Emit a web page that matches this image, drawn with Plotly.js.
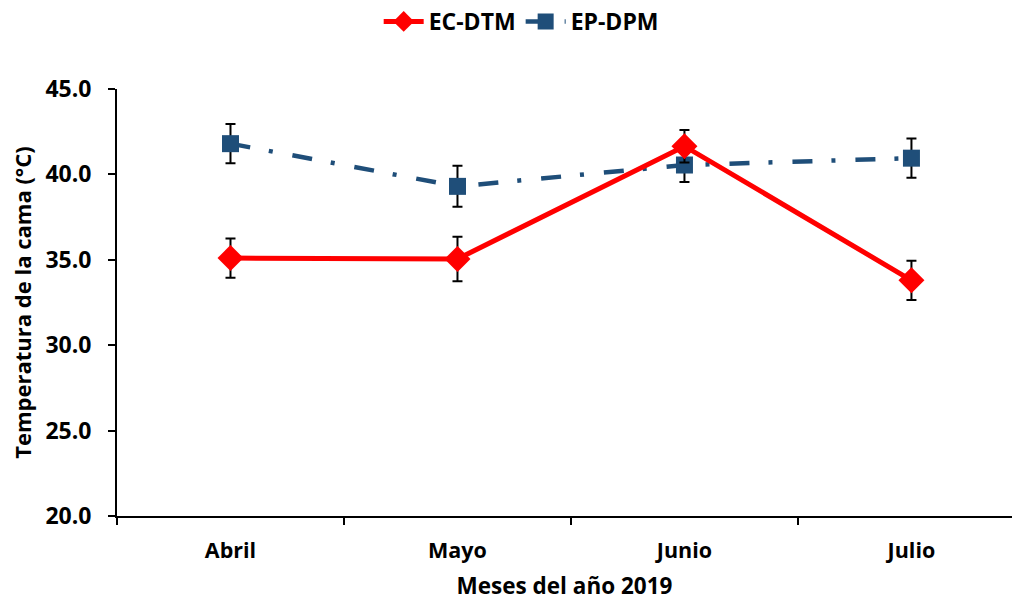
<!DOCTYPE html>
<html>
<head>
<meta charset="utf-8">
<script src="https://cdn.plot.ly/plotly-3.0.1.min.js"></script>
<style>html,body{margin:0;padding:0;background:#fff;overflow:hidden}</style>
</head>
<body>
<div id="chart" style="width:1012px;height:601px"></div>
<script>
const months = ["Abril", "Mayo", "Junio", "Julio"];
const ecDtm = [35.1, 35.05, 41.65, 33.8];
const ecDtmErr = [1.15, 1.3, 0.95, 1.15];
const epDpm = [41.8, 39.3, 40.55, 40.95];
const epDpmErr = [1.15, 1.2, 1.0, 1.15];
const yTicks = [20, 25, 30, 35, 40, 45];

const FONT = "Open Sans, Liberation Sans, sans-serif";

const traces = [
  {
    x: months, y: epDpm, name: "EP-DPM", type: "scatter", mode: "lines+markers",
    line: {color: "#1F4E79", width: 4.5, dash: "20px,19px,4px,20px"},
    marker: {symbol: "square", size: 17, color: "#1F4E79"},
    error_y: {type: "data", array: epDpmErr, visible: true, color: "#000", thickness: 2, width: 5},
    legendrank: 2
  },
  {
    x: months, y: ecDtm, name: "EC-DTM", type: "scatter", mode: "lines+markers",
    line: {color: "#FF0000", width: 5},
    marker: {symbol: "diamond", size: 20, color: "#FF0000"},
    error_y: {type: "data", array: ecDtmErr, visible: true, color: "#000", thickness: 2, width: 5},
    legendrank: 1
  }
];

const layout = {
  width: 1012, height: 601,
  margin: {l: 117, r: 0, t: 89, b: 85},
  paper_bgcolor: "#fff", plot_bgcolor: "#fff",
  font: {family: FONT, color: "#000", size: 20, weight: "bold"},
  showlegend: true,
  legend: {
    orientation: "h", xref: "container", yref: "container",
    x: 0.515, xanchor: "center", y: 1.0, yanchor: "top",
    font: {family: FONT, size: 23, weight: "bold", color: "#000"},
    traceorder: "normal", itemwidth: 40
  },
  xaxis: {
    type: "category", range: [-0.5, 3.443],
    showline: true, linecolor: "#000", linewidth: 2,
    ticks: "outside", ticklen: 7, tickwidth: 2, tickcolor: "#000",
    tickson: "boundaries", showgrid: false, zeroline: false,
    ticklabelstandoff: 14,
    tickfont: {family: FONT, size: 21.5, weight: "bold", color: "#000"},
    title: {text: "Meses del año 2019", standoff: 22, font: {family: FONT, size: 22.5, weight: "bold", color: "#000"}}
  },
  yaxis: {
    range: [20, 45], tickvals: yTicks, tickformat: ".1f",
    showline: true, linecolor: "#000", linewidth: 2,
    ticks: "outside", ticklen: 7, tickwidth: 2, tickcolor: "#000",
    showgrid: false, zeroline: false,
    ticklabelstandoff: 12,
    tickfont: {family: FONT, size: 23, weight: "bold", color: "#000"},
    title: {text: "Temperatura de la cama (°C)", standoff: 8, font: {family: FONT, size: 22, weight: "bold", color: "#000"}}
  }
};

Plotly.newPlot("chart", traces, layout, {displayModeBar: false, staticPlot: true});
</script>
</body>
</html>
